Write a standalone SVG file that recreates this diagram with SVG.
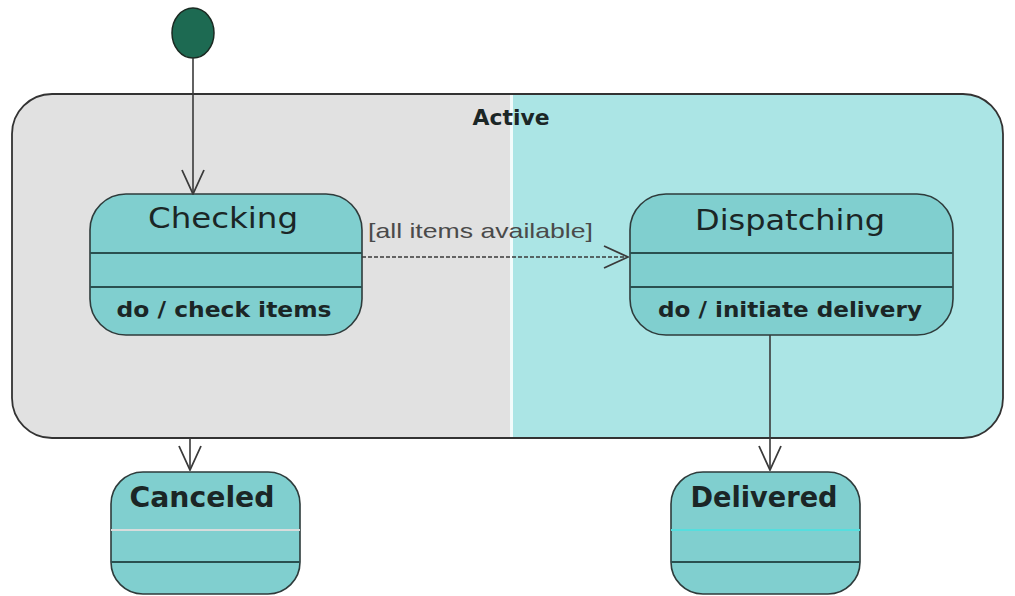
<svg xmlns="http://www.w3.org/2000/svg" width="1015" height="596" viewBox="0 0 1015 596">
<style>
.state{fill:#80cfcf;stroke:#2e3b3b;stroke-width:1.6}
.div{stroke:#2a5050;stroke-width:2.2}
.name{font-family:"DejaVu Sans",sans-serif;font-size:28px;fill:#1b2626;text-anchor:middle}
.nameb{font-family:"DejaVu Sans",sans-serif;font-size:28px;font-weight:bold;fill:#1b2626;text-anchor:middle}
.act{font-family:"DejaVu Sans",sans-serif;font-size:22px;font-weight:bold;fill:#1b2626;text-anchor:middle}
.conn{fill:none;stroke:#3a3a3a;stroke-width:1.6}
</style>
<defs>
<clipPath id="activeClip"><rect x="12" y="94" width="991" height="344" rx="40" ry="40"/></clipPath>
<marker id="open" markerUnits="userSpaceOnUse" viewBox="0 0 26 24" refX="25" refY="12" markerWidth="26" markerHeight="24" orient="auto">
<path d="M1,1 L25,12 L1,23" fill="none" stroke="#3a3a3a" stroke-width="1.8"/>
</marker>
</defs>
<rect width="1015" height="596" fill="#ffffff"/>

<g id="active">
<g clip-path="url(#activeClip)">
<rect x="12" y="94" width="500" height="344" fill="#e1e1e1"/>
<rect x="512" y="94" width="491" height="344" fill="#abe5e5"/>
<rect x="510" y="94" width="3" height="344" fill="#f2fbfb"/>
</g>
<rect x="12" y="94" width="991" height="344" rx="40" ry="40" fill="none" stroke="#333" stroke-width="1.8"/>
<text class="act" x="511" y="125" textLength="77" lengthAdjust="spacingAndGlyphs">Active</text>
</g>

<g id="initial">
<ellipse cx="193" cy="33" rx="21" ry="25" fill="#1d6a52" stroke="#1a2a22" stroke-width="1.5"/>
</g>

<g id="checking">
<rect class="state" x="90" y="194" width="272" height="141" rx="36" ry="36"/>
<line class="div" x1="90" y1="253" x2="362" y2="253"/>
<line class="div" x1="90" y1="287" x2="362" y2="287"/>
<text class="name" x="223" y="228" textLength="150" lengthAdjust="spacingAndGlyphs">Checking</text>
<text class="nameb" x="224" y="317" style="font-size:22px" textLength="215" lengthAdjust="spacingAndGlyphs">do / check items</text>
</g>

<g id="dispatching">
<rect class="state" x="630" y="194" width="323" height="141" rx="36" ry="36"/>
<line class="div" x1="630" y1="253" x2="953" y2="253"/>
<line class="div" x1="630" y1="287" x2="953" y2="287"/>
<text class="name" x="790" y="230" textLength="190" lengthAdjust="spacingAndGlyphs">Dispatching</text>
<text class="nameb" x="790" y="317" style="font-size:22px" textLength="264" lengthAdjust="spacingAndGlyphs">do / initiate delivery</text>
</g>

<g id="canceled">
<rect class="state" x="111" y="472" width="189" height="122" rx="32" ry="32"/>
<line x1="111" y1="530" x2="300" y2="530" stroke="#d8dcdc" stroke-width="2"/>
<line class="div" x1="111" y1="562" x2="300" y2="562"/>
<text class="nameb" x="202" y="507" textLength="145" lengthAdjust="spacingAndGlyphs">Canceled</text>
</g>

<g id="delivered">
<rect class="state" x="671" y="472" width="189" height="122" rx="32" ry="32"/>
<line x1="671" y1="530" x2="860" y2="530" stroke="#55dede" stroke-width="2"/>
<line class="div" x1="671" y1="562" x2="860" y2="562"/>
<text class="nameb" x="764" y="507" textLength="147" lengthAdjust="spacingAndGlyphs">Delivered</text>
</g>

<g id="connectors">
<line class="conn" x1="193" y1="58" x2="193" y2="194" marker-end="url(#open)"/>
<line class="conn" x1="362" y1="257" x2="628" y2="257" stroke-dasharray="4 2" marker-end="url(#open)"/>
<text x="368" y="238" font-family="'Liberation Sans',Arial,sans-serif" font-size="21" fill="#4a4a4a" textLength="225" lengthAdjust="spacingAndGlyphs">[all items available]</text>
<line class="conn" x1="770" y1="335" x2="770" y2="470" marker-end="url(#open)"/>
<line class="conn" x1="190" y1="438" x2="190" y2="470" marker-end="url(#open)"/>
</g>
</svg>
